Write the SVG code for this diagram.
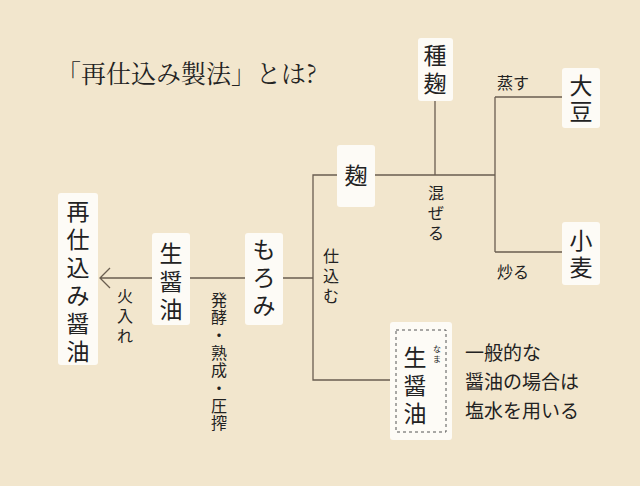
<svg xmlns="http://www.w3.org/2000/svg" width="640" height="486" viewBox="0 0 640 486">
<style>
.b{fill:#fdfbf6}
.t{font-family:"Noto Sans CJK JP",sans-serif;font-size:23px;fill:#222;text-anchor:middle}
.s{font-family:"Noto Sans CJK JP",sans-serif;font-size:16px;fill:#222}
.v{font-family:"Noto Sans CJK JP",sans-serif;font-size:16px;fill:#222;text-anchor:middle}
.l{stroke:#6a5e50;stroke-width:1.3;fill:none}
</style>
<rect width="640" height="486" fill="#f2e6cd"/>
<text x="56" y="83" font-family="Noto Serif CJK JP,Liberation Serif,serif" font-size="25" fill="#222">「再仕込み製法」とは?</text>
<g id="connectors" class="l">
<path d="M435 100V175M375 175H495M495 97V252M495 97H562M495 252H562"/>
<path d="M337 175H313V380H390M283 278H313M245 278H190M152 278H100M110 268L100 278L110 288"/>
</g>
<g id="n-tanekoji"><rect class="b" x="418" y="38" width="35" height="63" rx="3"/><text class="t" x="435" y="64">種</text><text class="t" x="435" y="92">麹</text></g>
<g id="n-daizu"><rect class="b" x="562" y="68" width="38" height="60" rx="3"/><text class="t" x="581" y="94">大</text><text class="t" x="581" y="120">豆</text></g>
<g id="n-komugi"><rect class="b" x="562" y="222" width="38" height="63" rx="3"/><text class="t" x="581" y="249">小</text><text class="t" x="581" y="276">麦</text></g>
<g id="n-koji"><rect class="b" x="337" y="145" width="38" height="62" rx="3"/><text class="t" x="356" y="184">麹</text></g>
<g id="n-moromi"><rect class="b" x="245" y="233" width="38" height="92" rx="3"/><text class="t" x="264" y="258">も</text><text class="t" x="264" y="286">ろ</text><text class="t" x="264" y="314">み</text></g>
<g id="n-kijoyu"><rect class="b" x="152" y="233" width="38" height="92" rx="3"/><text class="t" x="171" y="262">生</text><text class="t" x="171" y="290">醤</text><text class="t" x="171" y="318">油</text></g>
<g id="n-saishikomi"><rect class="b" x="58" y="193" width="40" height="172" rx="3"/><text class="t" x="78" y="220">再</text><text class="t" x="78" y="248">仕</text><text class="t" x="78" y="276">込</text><text class="t" x="78" y="304">み</text><text class="t" x="78" y="332">醤</text><text class="t" x="78" y="360">油</text></g>
<g id="n-nama"><rect class="b" x="390" y="322" width="62" height="118" rx="3"/><rect x="396" y="330" width="50" height="102" fill="none" stroke="#555" stroke-width="1" stroke-dasharray="3,3"/><text class="t" x="415" y="366">生</text><text class="t" x="415" y="394">醤</text><text class="t" x="415" y="422">油</text><text x="437" y="352" font-family="Noto Sans CJK JP,sans-serif" font-size="8" fill="#222" text-anchor="middle">な</text><text x="437" y="362" font-family="Noto Sans CJK JP,sans-serif" font-size="8" fill="#222" text-anchor="middle">ま</text></g>
<g id="labels">
<text class="s" x="497" y="89">蒸す</text>
<text class="s" x="497" y="278">炒る</text>
<g class="v"><text x="436" y="199">混</text><text x="436" y="219">ぜ</text><text x="436" y="239">る</text></g>
<g class="v"><text x="331" y="262">仕</text><text x="331" y="282">込</text><text x="331" y="302">む</text></g>
<g class="v"><text x="125" y="302">火</text><text x="125" y="322">入</text><text x="125" y="342">れ</text></g>
<g class="v"><text x="219" y="306">発</text><text x="219" y="323">酵</text><text x="219" y="341">・</text><text x="219" y="359">熟</text><text x="219" y="376">成</text><text x="219" y="394">・</text><text x="219" y="412">圧</text><text x="219" y="429">搾</text></g>
<g font-family="Noto Sans CJK JP,sans-serif" font-size="19" fill="#222"><text x="465" y="360">一般的な</text><text x="465" y="389">醤油の場合は</text><text x="465" y="418">塩水を用いる</text></g>
</g>
</svg>
